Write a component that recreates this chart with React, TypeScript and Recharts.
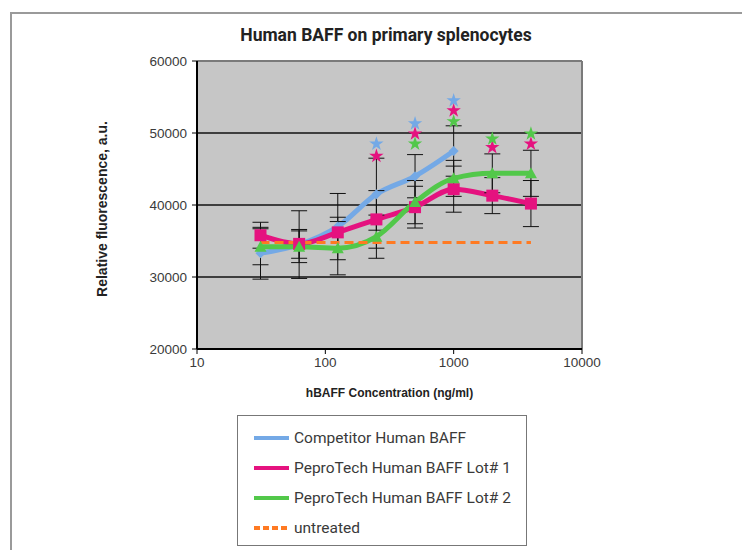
import { CartesianGrid, ComposedChart, ErrorBar, Label, Line, ReferenceLine, Scatter, XAxis, YAxis } from "recharts";

const concentrations = [31.25, 62.5, 125, 250, 500, 1000, 2000, 4000];

const competitor = [33300, 34500, 37000, 41500, 44000, 47500, null, null];
const competitorErr = [3600, 4700, 4600, 5000, 3000, 3500, null, null];
const competitorStars = [null, null, null, 48500, 51300, 54500, null, null];

const lot1 = [35800, 34600, 36200, 38000, 39700, 42200, 41300, 40200];
const lot1Err = [1800, 2000, 2100, 4000, 2900, 3200, 2500, 3200];
const lot1Stars = [null, null, null, 46800, 49900, 53100, 48000, 48500];

const lot2 = [34200, 34200, 34000, 35600, 40400, 43700, 44400, 44400];
const lot2Err = [2500, 2200, 3700, 3000, 3000, 2500, 2700, 3200];
const lot2Stars = [null, null, null, null, 48500, 51600, 49200, 49900];

const untreated = [34800, 34800, 34800, 34800, 34800, 34800, 34800, 34800];

const xTicks = [10, 100, 1000, 10000];
const yTicks = [20000, 30000, 40000, 50000, 60000];

const BLUE = "#74a9e6";
const PINK = "#e5127f";
const GREEN = "#52c84a";
const ORANGE = "#ff7a22";

const rows = concentrations.map((conc, i) => ({
  conc,
  competitor: competitor[i],
  competitorErr: competitorErr[i],
  lot1: lot1[i],
  lot1Err: lot1Err[i],
  lot2: lot2[i],
  lot2Err: lot2Err[i],
  untreated: untreated[i],
}));

const starPoints = (stars: (number | null)[]) =>
  concentrations.map((conc, i) => ({ conc, star: stars[i] })).filter((d) => d.star !== null);

const legendItems = [
  { name: "Competitor Human BAFF", color: BLUE, dash: undefined },
  { name: "PeproTech Human BAFF Lot# 1", color: PINK, dash: undefined },
  { name: "PeproTech Human BAFF Lot# 2", color: GREEN, dash: undefined },
  { name: "untreated", color: ORANGE, dash: "6 3" },
];

const tickStyle = { fontSize: 13.5, fill: "#3a3a3a", fontFamily: "Liberation Sans" };

function SquareDot(props: any) {
  const { cx, cy } = props;
  if (cx == null || cy == null) return null;
  return <rect x={cx - 6} y={cy - 6} width={12} height={12} fill={PINK} />;
}

function TriangleDot(props: any) {
  const { cx, cy } = props;
  if (cx == null || cy == null) return null;
  return <path d={`M${cx},${cy - 6} L${cx + 6},${cy + 5} L${cx - 6},${cy + 5} Z`} fill={GREEN} />;
}

function DiamondDot(props: any) {
  const { cx, cy } = props;
  if (cx == null || cy == null) return null;
  return <path d={`M${cx},${cy - 5} L${cx + 5},${cy} L${cx},${cy + 5} L${cx - 5},${cy} Z`} fill={BLUE} />;
}

function YTitle(props: any) {
  const { viewBox } = props;
  const cy = viewBox.y + viewBox.height / 2 + 4;
  return (
    <text
      x={103}
      y={cy}
      transform={`rotate(-90 103 ${cy})`}
      textAnchor="middle"
      dominantBaseline="middle"
      style={{ fontSize: 14, fontWeight: 700, fontFamily: "Liberation Sans", fill: "#222" }}
    >
      Relative fluorescence, a.u.
    </text>
  );
}

function XTitle(props: any) {
  const { viewBox } = props;
  return (
    <text
      x={viewBox.x + viewBox.width / 2}
      y={397}
      textAnchor="middle"
      style={{ fontSize: 12, fontWeight: 700, fontFamily: "Liberation Sans", fill: "#222" }}
    >
      hBAFF Concentration (ng/ml)
    </text>
  );
}

export default function App() {
  return (
    <div
      style={{
        position: "absolute",
        left: 0,
        top: 0,
        width: 742,
        height: 550,
        overflow: "hidden",
        background: "#fff",
        fontFamily: "Roboto",
      }}
    >
      <div
        style={{
          position: "absolute",
          left: 10,
          top: 12,
          width: 800,
          height: 600,
          borderTop: "2px solid #9a9a9a",
          borderLeft: "2px solid #9a9a9a",
        }}
      />
      <div
        style={{
          position: "absolute",
          left: 186,
          top: 24,
          width: 400,
          textAlign: "center",
          fontSize: 17.5,
          fontWeight: 700,
          lineHeight: "22px",
          color: "#222",
        }}
      >
        Human BAFF on primary splenocytes
      </div>
      <div style={{ position: "absolute", left: 0, top: 0 }}>
        <ComposedChart width={742} height={550} data={rows} margin={{ top: 61, right: 160, bottom: 141, left: 0 }}>
          <CartesianGrid vertical={false} stroke="#111" strokeWidth={1.5} fill="#c6c6c6" />
          <ReferenceLine y={60000} stroke="#7a7a7a" strokeWidth={2} />
          <ReferenceLine x={10000} stroke="#7a7a7a" strokeWidth={2} />
          <XAxis
            dataKey="conc"
            type="number"
            scale="log"
            domain={[10, 10000]}
            ticks={xTicks}
            allowDataOverflow
            height={60}
            tick={tickStyle}
            tickSize={5}
            tickMargin={3}
            axisLine={{ stroke: "#000", strokeWidth: 2 }}
            tickLine={{ stroke: "#000" }}
          >
            <Label content={<XTitle />} />
          </XAxis>
          <YAxis
            type="number"
            domain={[20000, 60000]}
            ticks={yTicks}
            width={197}
            tick={tickStyle}
            tickSize={5}
            tickMargin={5}
            axisLine={{ stroke: "#000", strokeWidth: 2 }}
            tickLine={{ stroke: "#000" }}
          >
            <Label content={<YTitle />} />
          </YAxis>
          <Line
            dataKey="competitor"
            type="monotone"
            stroke={BLUE}
            strokeWidth={5}
            dot={<DiamondDot />}
            activeDot={false}
            isAnimationActive={false}
          >
            <ErrorBar dataKey="competitorErr" direction="y" width={8} stroke="#111" strokeWidth={1} />
          </Line>
          <Line
            dataKey="lot1"
            type="monotone"
            stroke={PINK}
            strokeWidth={5}
            dot={<SquareDot />}
            activeDot={false}
            isAnimationActive={false}
          >
            <ErrorBar dataKey="lot1Err" direction="y" width={8} stroke="#111" strokeWidth={1} />
          </Line>
          <Line
            dataKey="lot2"
            type="monotone"
            stroke={GREEN}
            strokeWidth={5}
            dot={<TriangleDot />}
            activeDot={false}
            isAnimationActive={false}
          >
            <ErrorBar dataKey="lot2Err" direction="y" width={8} stroke="#111" strokeWidth={1} />
          </Line>
          <Line
            dataKey="untreated"
            type="linear"
            stroke={ORANGE}
            strokeWidth={3}
            strokeDasharray="9 5"
            dot={false}
            activeDot={false}
            isAnimationActive={false}
          />
          <Scatter data={starPoints(competitorStars)} dataKey="star" shape="star" fill={BLUE} isAnimationActive={false} />
          <Scatter data={starPoints(lot1Stars)} dataKey="star" shape="star" fill={PINK} isAnimationActive={false} />
          <Scatter data={starPoints(lot2Stars)} dataKey="star" shape="star" fill={GREEN} isAnimationActive={false} />
        </ComposedChart>
      </div>
      <div
        style={{
          position: "absolute",
          left: 237,
          top: 415,
          width: 290,
          height: 131,
          border: "1px solid #777",
          boxSizing: "border-box",
          paddingTop: 7,
        }}
      >
        {legendItems.map((item) => (
          <div key={item.name} style={{ display: "flex", alignItems: "center", height: 30 }}>
            <svg width={52} height={12} style={{ marginLeft: 15, flex: "none" }}>
              <line x1={1} y1={6} x2={36} y2={6} stroke={item.color} strokeWidth={4} strokeDasharray={item.dash} />
            </svg>
            <span style={{ fontSize: 15.5, color: "#3a3a3a", marginLeft: -11 }}>{item.name}</span>
          </div>
        ))}
      </div>
    </div>
  );
}
